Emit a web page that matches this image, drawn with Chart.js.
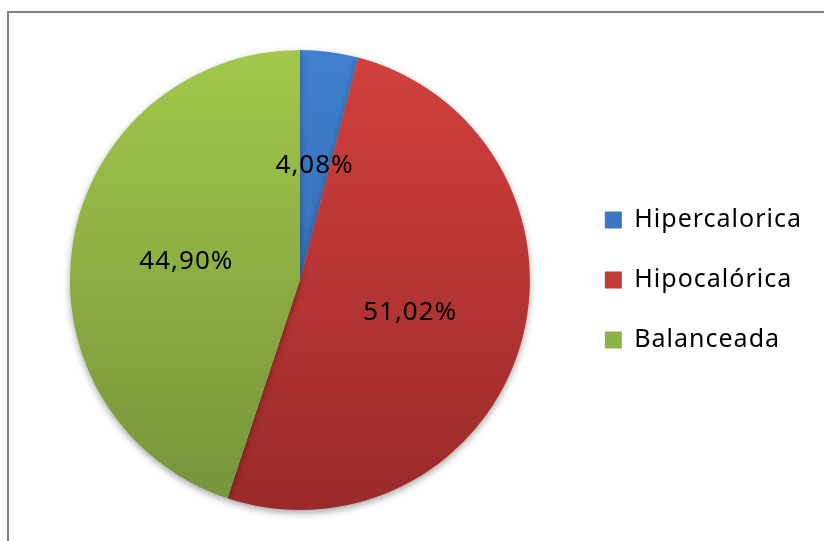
<!DOCTYPE html>
<html>
<head>
<meta charset="utf-8">
<script src="https://cdn.jsdelivr.net/npm/chart.js@4.4.1/dist/chart.umd.min.js"></script>
<style>
  html, body { margin: 0; padding: 0; background: #fff; }
  #wrap { position: relative; width: 824px; height: 541px; overflow: hidden; }
  #frame {
    position: absolute; left: 7px; top: 11px; width: 900px; height: 700px;
    border-left: 2px solid #808080; border-top: 2px solid #808080;
  }
  canvas { position: absolute; left: 0; top: 0; }
</style>
</head>
<body>
<div id="wrap">
  <div id="frame"></div>
  <canvas id="dietChart" width="824" height="541"></canvas>
</div>
<script>
const categories = ['Hipercalorica', 'Hipocalórica', 'Balanceada'];
const percentages = [4.08, 51.02, 44.90];

// light (top) and dark (bottom) shade per slice
const topColors = ['#3f7fcd', '#d2403d', '#a2c84b'];
const bottomColors = ['#2e64a8', '#9a2a2a', '#75933a'];
const legendColors = ['#3a76c2', '#c03a38', '#8db543'];

const fontFamily = '"Noto Sans", "DejaVu Sans", sans-serif';

function sliceGradient(ctx, i) {
    const area = ctx.chart.chartArea;
    if (!area) return topColors[i];
    const g = ctx.chart.ctx.createLinearGradient(0, area.top, 0, area.bottom);
    g.addColorStop(0, topColors[i]);
    g.addColorStop(1, bottomColors[i]);
    return g;
}

// slightly spaced-out lettering for all text
const spacing = {
    id: 'spacing',
    beforeLayout(chart) { chart.ctx.letterSpacing = '1px'; },
    beforeDraw(chart) { chart.ctx.letterSpacing = '1px'; }
};

// soft shadow under the pie
const pieShadow = {
    id: 'pieShadow',
    beforeDatasetsDraw(chart) {
        const c = chart.ctx;
        c.save();
        c.shadowColor = 'rgba(0,0,0,0.35)';
        c.shadowBlur = 7;
        c.shadowOffsetY = 3;
    },
    afterDatasetsDraw(chart) {
        chart.ctx.restore();
    }
};

// percentage text in the middle of each slice
const sliceLabels = {
    id: 'sliceLabels',
    afterDraw(chart) {
        const c = chart.ctx;
        const meta = chart.getDatasetMeta(0);
        c.save();
        c.letterSpacing = '1px';
        c.font = '26px ' + fontFamily;
        c.fillStyle = '#000';
        c.textAlign = 'center';
        c.textBaseline = 'middle';
        meta.data.forEach((arc, i) => {
            const p = arc.tooltipPosition();
            const txt = percentages[i].toFixed(2).replace('.', ',') + '%';
            c.fillText(txt, p.x, p.y);
        });
        c.restore();
    }
};

new Chart(document.getElementById('dietChart'), {
    type: 'pie',
    data: {
        labels: categories,
        datasets: [{
            data: percentages,
            backgroundColor: (ctx) => sliceGradient(ctx, ctx.dataIndex),
            borderWidth: 0
        }]
    },
    options: {
        responsive: false,
        animation: false,
        layout: { padding: { left: 30, top: 50, bottom: 31, right: 12 } },
        plugins: {
            tooltip: { enabled: false },
            legend: {
                position: 'right',
                labels: {
                    boxWidth: 17,
                    boxHeight: 17,
                    padding: 35,
                    color: '#000',
                    font: { size: 25, family: fontFamily },
                    generateLabels(chart) {
                        return categories.map((name, i) => ({
                            text: name,
                            fillStyle: legendColors[i],
                            strokeStyle: legendColors[i],
                            lineWidth: 0,
                            index: i
                        }));
                    }
                }
            }
        }
    },
    plugins: [spacing, pieShadow, sliceLabels]
});
</script>
</body>
</html>
